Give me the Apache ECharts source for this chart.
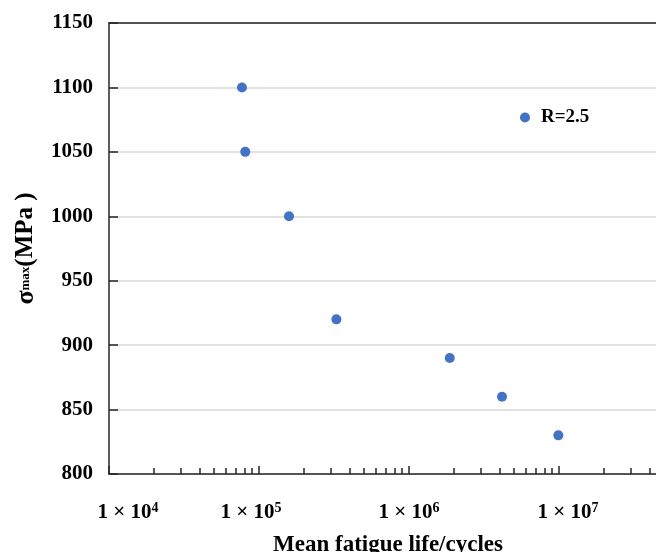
<!DOCTYPE html>
<html>
<head>
<meta charset="utf-8">
<script src="https://cdn.jsdelivr.net/npm/echarts@6/dist/echarts.min.js"></script>
<style>html,body{margin:0;padding:0;background:#fff;}#c{width:656px;height:552px;}</style>
</head>
<body>
<div id="c"></div>
<script>
// Data
const seriesName = 'R=2.5';
const cycles = [7.7e4, 8.1e4, 1.585e5, 3.28e5, 1.87e6, 4.17e6, 9.9e6];
const stressMPa = [1100, 1050, 1000, 920, 890, 860, 830];
const xMajorTicks = [1e4, 1e5, 1e6, 1e7, 1e8];
const xLabelExponents = [4, 5, 6, 7];
const yMin = 800, yMax = 1150, yStep = 50;
const xMin = 1e4, xMax = 1e8;
const xTitle = 'Mean fatigue life/cycles';

const minorTicks = [];
for (let d = 0; d < xMajorTicks.length - 1; d++) {
  for (let m = 2; m <= 9; m++) minorTicks.push(m * xMajorTicks[d]);
}

const FONT = '"Liberation Serif", "Times New Roman", serif';
const chart = echarts.init(document.getElementById('c'), null, {renderer: 'canvas'});
const base = {fontFamily: FONT, fontWeight: 'bold', color: '#000'};

const option = {
  backgroundColor: '#fff',
  animation: false,
  grid: {left: 109, right: -53, top: 23, bottom: 78, containLabel: false, outerBoundsMode: 'none'},
  legend: {
    left: 515, top: 103,
    itemWidth: 10, itemHeight: 10, icon: 'circle',
    textStyle: Object.assign({fontSize: 19, padding: [0, 0, 0, 6]}, base),
    data: [seriesName]
  },
  xAxis: [
    {
      type: 'log', min: xMin, max: xMax, logBase: 10,
      position: 'bottom',
      axisLine: {show: true, lineStyle: {color: '#262626', width: 1.5}},
      axisTick: {show: true, inside: true, length: 8, lineStyle: {color: '#262626', width: 1.5}},
      minorTick: {show: false},
      splitLine: {show: false},
      axisLabel: {
        margin: 27,
        showMaxLabel: false,
        formatter: function (v) {
          const e = Math.round(Math.log10(v));
          if (xLabelExponents.indexOf(e) < 0) return '';
          return '{b' + e + '|1 × 10}{s' + e + '|' + e + '}';
        },
        rich: {
          b4: Object.assign({fontSize: 21, padding: [0, 0, 0, 38]}, base),
          s4: Object.assign({fontSize: 14, padding: [0, 0, 9, 0]}, base),
          b5: Object.assign({fontSize: 21}, base),
          s5: Object.assign({fontSize: 14, padding: [0, 16, 9, 0]}, base),
          b6: Object.assign({fontSize: 21}, base),
          s6: Object.assign({fontSize: 14, padding: [0, 0, 9, 0]}, base),
          b7: Object.assign({fontSize: 21, padding: [0, 0, 0, 18]}, base),
          s7: Object.assign({fontSize: 14, padding: [0, 0, 9, 0]}, base)
        }
      },
      name: xTitle,
      nameLocation: 'middle',
      nameGap: 60,
      nameTextStyle: Object.assign({fontSize: 23, padding: [0, 42, 0, 0]}, base)
    },
    {
      type: 'log', min: xMin, max: xMax, logBase: 10,
      position: 'bottom',
      axisLine: {show: false},
      axisTick: {show: true, inside: true, length: 6, customValues: minorTicks, lineStyle: {color: '#262626', width: 1.5}},
      axisLabel: {show: false},
      splitLine: {show: false}
    },
    {
      type: 'log', min: xMin, max: xMax, logBase: 10,
      position: 'top',
      axisLine: {show: true, lineStyle: {color: '#262626', width: 1.5}},
      axisTick: {show: false},
      axisLabel: {show: false},
      splitLine: {show: false}
    }
  ],
  yAxis: {
    type: 'value', min: yMin, max: yMax, interval: yStep,
    axisLine: {show: true, lineStyle: {color: '#262626', width: 1.5}},
    axisTick: {show: true, inside: true, length: 9, lineStyle: {color: '#262626', width: 1.5}},
    splitLine: {show: true, lineStyle: {color: '#d9d9d9', width: 1.5}},
    axisLabel: Object.assign({fontSize: 21, margin: 16, formatter: function (v) { return String(v); }}, base),
    name: '{s|σ}{m|max}{p|(MPa )}',
    nameLocation: 'middle',
    nameGap: 70,
    nameTextStyle: {
      rich: {
        s: Object.assign({fontSize: 26}, base),
        m: Object.assign({fontSize: 13}, base),
        p: Object.assign({fontSize: 25}, base)
      }
    }
  },
  series: [{
    name: seriesName,
    type: 'scatter',
    xAxisIndex: 0,
    symbol: 'circle',
    symbolSize: 10,
    itemStyle: {color: '#4472C4', opacity: 1},
    data: cycles.map((c, i) => [c, stressMPa[i]])
  }]
};
chart.setOption(option);
</script>
</body>
</html>
